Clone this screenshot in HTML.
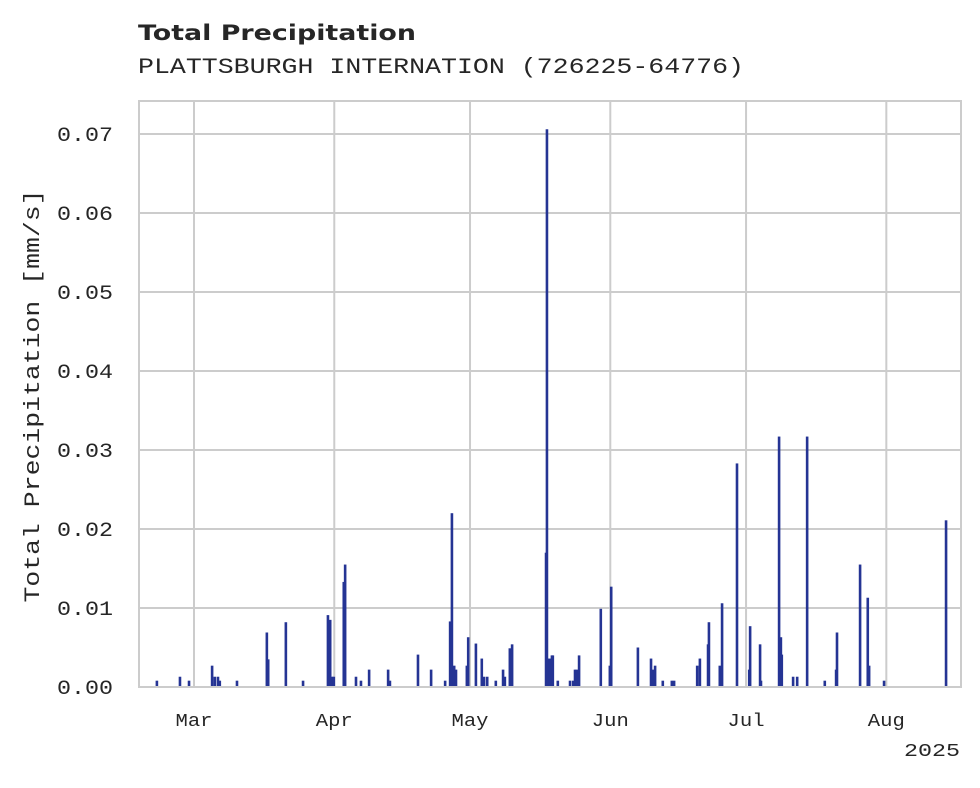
<!DOCTYPE html>
<html><head><meta charset="utf-8"><style>
body{margin:0;background:#fff;}
svg text{fill:#262626;}
</style></head><body>
<svg width="980" height="783" xmlns="http://www.w3.org/2000/svg">
<text x="138" y="40" font-family="DejaVu Sans, Liberation Sans, sans-serif" font-weight="bold" font-size="21" textLength="278" lengthAdjust="spacingAndGlyphs">Total Precipitation</text>
<text x="138" y="73" font-family="Liberation Mono, DejaVu Sans Mono, monospace" font-size="22" textLength="606" lengthAdjust="spacingAndGlyphs">PLATTSBURGH INTERNATION (726225-64776)</text>
<g id="grid"></g>
<g id="bars"></g>
<rect x="139" y="101" width="822" height="586" fill="none" stroke="#cccccc" stroke-width="2"/>
<g id="yticks" font-family="Liberation Mono, DejaVu Sans Mono, monospace" font-size="20" text-anchor="end"></g>
<g id="xticks" font-family="Liberation Mono, DejaVu Sans Mono, monospace" font-size="18" text-anchor="middle"></g>
<text x="960" y="756" font-family="Liberation Mono, DejaVu Sans Mono, monospace" font-size="18" text-anchor="end" textLength="56" lengthAdjust="spacingAndGlyphs">2025</text>
<text transform="translate(39,396) rotate(-90)" font-family="Liberation Mono, DejaVu Sans Mono, monospace" font-size="22" text-anchor="middle" textLength="413" lengthAdjust="spacingAndGlyphs">Total Precipitation [mm/s]</text>
</svg>
<script>
const days=[-8.2,-3.1,-1.1,4.0,4.6,5.3,5.7,9.5,16.1,16.4,20.3,24.1,29.6,30.1,30.5,30.9,33.1,33.4,35.8,36.9,38.7,42.9,43.3,49.5,52.4,55.5,56.6,57.0,57.5,57.9,60.3,60.6,62.3,63.6,64.1,64.8,66.7,68.3,68.7,69.8,70.3,77.8,78.0,78.2,78.7,79.1,79.3,80.4,83.1,83.8,84.2,84.6,85.1,89.9,91.9,92.2,98.1,101.0,101.4,101.9,103.6,105.6,106.1,111.2,111.8,113.6,113.8,116.2,116.7,120.0,122.7,122.9,125.1,125.3,129.3,129.7,129.9,132.4,133.3,135.5,139.4,141.9,142.1,147.2,148.9,149.2,152.5,166.2];
const precip=[0.0008,0.0013,0.0008,0.0027,0.0013,0.0013,0.0008,0.0008,0.0069,0.0035,0.0082,0.0008,0.0091,0.0085,0.0013,0.0013,0.0133,0.0155,0.0013,0.0008,0.0022,0.0022,0.0008,0.0041,0.0022,0.0008,0.0083,0.0220,0.0027,0.0022,0.0027,0.0063,0.0055,0.0036,0.0013,0.0013,0.0008,0.0022,0.0013,0.0049,0.0054,0.0170,0.0706,0.0036,0.0036,0.0040,0.0040,0.0008,0.0008,0.0008,0.0022,0.0022,0.0040,0.0099,0.0027,0.0127,0.0050,0.0036,0.0022,0.0027,0.0008,0.0008,0.0008,0.0027,0.0036,0.0054,0.0082,0.0027,0.0106,0.0283,0.0022,0.0077,0.0054,0.0008,0.0317,0.0063,0.0041,0.0013,0.0013,0.0317,0.0008,0.0022,0.0069,0.0155,0.0113,0.0027,0.0008,0.0211];
const yTickVals=[0,0.01,0.02,0.03,0.04,0.05,0.06,0.07];
const yTickLabels=["0.00","0.01","0.02","0.03","0.04","0.05","0.06","0.07"];
const xTickDays=[0,31,61,92,122,153];
const xTickLabels=["Mar","Apr","May","Jun","Jul","Aug"];
const NS="http://www.w3.org/2000/svg";
const X=d=>194+d*4.525;
const Y=v=>687-v*7900;
const grid=document.getElementById('grid'),bars=document.getElementById('bars'),yt=document.getElementById('yticks'),xt=document.getElementById('xticks');
function mk(t,a){const e=document.createElementNS(NS,t);for(const k in a)e.setAttribute(k,a[k]);return e;}
yTickVals.forEach((v,i)=>{
 const l=mk('line',{x1:139,x2:961,y1:Y(v),y2:Y(v),stroke:'#cccccc','stroke-width':2});
 
 
 grid.appendChild(l);
 const t=mk('text',{x:113,y:Y(v)+7,textLength:56,lengthAdjust:'spacingAndGlyphs'});t.textContent=yTickLabels[i];
 
 
 yt.appendChild(t);
});
xTickDays.forEach((d,i)=>{
 const l=mk('line',{x1:X(d),x2:X(d),y1:101,y2:687,stroke:'#cccccc','stroke-width':2});
 
 
 grid.appendChild(l);
 const t=mk('text',{x:X(d),y:726,textLength:37,lengthAdjust:'spacingAndGlyphs'});t.textContent=xTickLabels[i];
 
 
 xt.appendChild(t);
});
days.forEach((d,i)=>{
 const r=mk('rect',{x:X(d)-1.3,y:Y(precip[i]),width:2.6,height:687-Y(precip[i]),fill:'#253494'});
 
 
 bars.appendChild(r);
});
</script>
</body></html>
